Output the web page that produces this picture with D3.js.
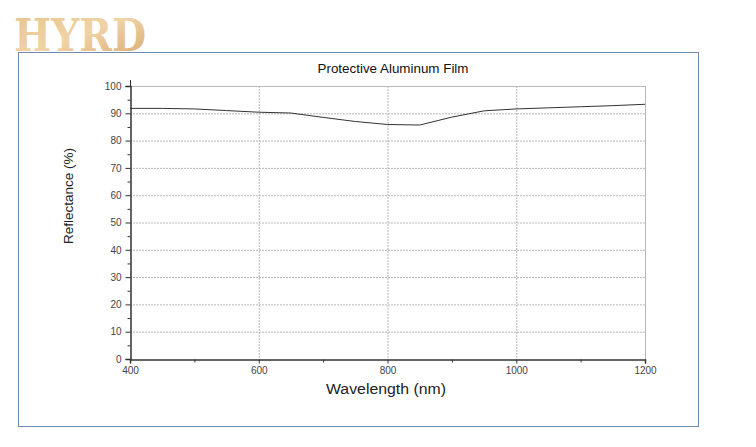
<!DOCTYPE html>
<html><head><meta charset="utf-8">
<script src="https://cdn.jsdelivr.net/npm/d3@7"></script>
<style>body{margin:0;background:#fff;}svg{display:block;}</style>
</head><body>
<script>
const title = "Protective Aluminum Film";
const xLabel = "Wavelength (nm)";
const yLabel = "Reflectance (%)";
const wavelengths = [400,450,500,550,600,650,700,750,800,850,900,950,1000,1050,1100,1150,1200];
const reflectance = [91.8,91.8,91.6,91.0,90.4,90.1,88.5,87.0,85.9,85.7,88.6,90.9,91.6,92.0,92.4,92.8,93.3];
const xTicks = [400,600,800,1000,1200];
const yTicks = [0,10,20,30,40,50,60,70,80,90,100];

const W=756,H=447;
const svg=d3.select("body").append("svg").attr("width",W).attr("height",H);
const defs=svg.append("defs");
const g1=defs.append("linearGradient").attr("id","gold").attr("x1","0").attr("y1","0").attr("x2","1").attr("y2","1");
g1.append("stop").attr("offset","0").attr("stop-color","#e9c48e");
g1.append("stop").attr("offset","0.5").attr("stop-color","#f0d3a6");
g1.append("stop").attr("offset","1").attr("stop-color","#d8a96c");

// frame
svg.append("rect").attr("x",18.5).attr("y",52.5).attr("width",680).attr("height",374)
  .attr("fill","none").attr("stroke","#6f8db4").attr("stroke-width",1);

// logo
svg.append("text").attr("x",14).attr("y",51).text("HYRD")
  .attr("font-family","DejaVu Serif").attr("font-weight","bold").attr("font-size",44)
  .attr("textLength",132).attr("lengthAdjust","spacingAndGlyphs")
  .attr("fill","url(#gold)");

const x=d3.scaleLinear().domain([400,1200]).range([130,645]);
const y=d3.scaleLinear().domain([0,100]).range([359,86]);

// grid
svg.append("g").selectAll("line").data(yTicks.filter(d=>d>0)).join("line")
  .attr("x1",130).attr("x2",645).attr("y1",d=>y(d)+0.5).attr("y2",d=>y(d)+0.5)
  .attr("stroke","#b8b8b8").attr("stroke-width",1).attr("stroke-dasharray", d=>d===100?null:"2,1");
svg.append("g").selectAll("line").data(xTicks.filter(d=>d>400)).join("line")
  .attr("x1",d=>x(d)+0.5).attr("x2",d=>x(d)+0.5).attr("y1",86).attr("y2",359)
  .attr("stroke","#b8b8b8").attr("stroke-width",1).attr("stroke-dasharray", d=>d===1200?null:"2,1");

// line
const line=d3.line().x((d,i)=>x(wavelengths[i])).y(d=>y(d));
svg.append("path").datum(reflectance).attr("d",line).attr("fill","none")
  .attr("stroke","#333").attr("stroke-width",1);

// axes
const yAxis=d3.axisLeft(y).tickValues(yTicks).tickFormat(d3.format("d")).tickSize(5).tickPadding(4);
const ya=svg.append("g").attr("transform","translate(130.5,0)").call(yAxis);
const yMinor=d3.range(5,100,10);
ya.append("g").selectAll("line").data(yMinor).join("line")
  .attr("x1",-3).attr("x2",0).attr("y1",d=>y(d)+0.5).attr("y2",d=>y(d)+0.5).attr("stroke","#333");
const xAxis=d3.axisBottom(x).tickValues(xTicks).tickFormat(d3.format("d")).tickSize(4).tickPadding(3);
const xa=svg.append("g").attr("transform","translate(0,359.5)").call(xAxis);
xa.append("g").selectAll("line").data([500,700,900,1100]).join("line")
  .attr("x1",d=>x(d)+0.5).attr("x2",d=>x(d)+0.5).attr("y1",0).attr("y2",3).attr("stroke","#333");
ya.append("line").attr("x1",0).attr("x2",0).attr("y1",80).attr("y2",86).attr("stroke","#333");
[ya,xa].forEach(a=>{
  a.select(".domain").attr("stroke","#333").attr("stroke-width",1.5);
  a.selectAll(".tick line").attr("stroke","#333");
  a.selectAll(".tick text").attr("font-family","Liberation Sans, Arial").attr("font-size",10).attr("fill","#444");
});

svg.append("text").attr("x",393).attr("y",73).attr("text-anchor","middle")
  .attr("font-family","Liberation Sans, Arial").attr("font-size",13).attr("fill","#111")
  .attr("textLength",151).attr("lengthAdjust","spacingAndGlyphs").text(title);
svg.append("text").attr("x",386).attr("y",394).attr("text-anchor","middle")
  .attr("font-family","Liberation Sans, Arial").attr("font-size",14).attr("fill","#222")
  .attr("textLength",120).attr("lengthAdjust","spacingAndGlyphs").text(xLabel);
svg.append("text").attr("transform","translate(73,196) rotate(-90)").attr("text-anchor","middle")
  .attr("font-family","Liberation Sans, Arial").attr("font-size",13).attr("fill","#222")
  .attr("textLength",96).attr("lengthAdjust","spacingAndGlyphs").text(yLabel);
</script>
</body></html>
